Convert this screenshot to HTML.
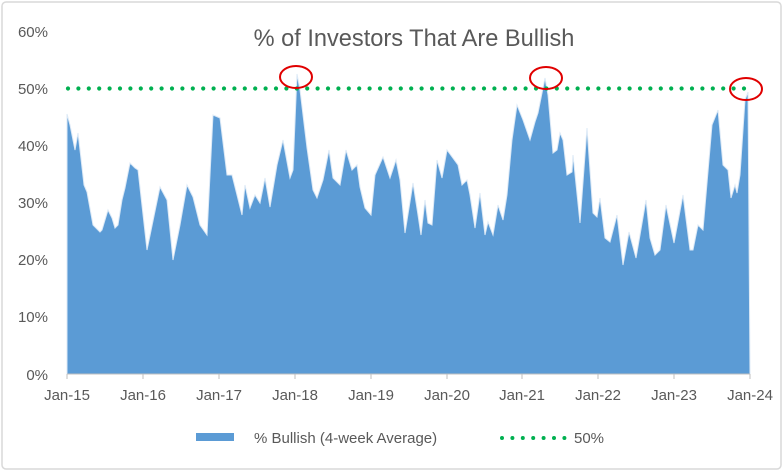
<!DOCTYPE html>
<html><head><meta charset="utf-8"><style>
body{margin:0;background:#fff;}
svg{display:block;font-family:"Liberation Sans",sans-serif;}
</style></head><body>
<svg width="784" height="472" viewBox="0 0 784 472">
<rect x="2" y="2" width="779" height="467" rx="4" fill="#fff" stroke="#d9d9d9" stroke-width="1.5"/>
<text x="414" y="46" text-anchor="middle" font-size="23.6" fill="#595959">% of Investors That Are Bullish</text>
<g font-size="15" fill="#595959" text-anchor="end">
<text x="48" y="37">60%</text><text x="48" y="94">50%</text><text x="48" y="151">40%</text>
<text x="48" y="208">30%</text><text x="48" y="265">20%</text><text x="48" y="322">10%</text><text x="48" y="380">0%</text>
</g>
<path fill="#5b9bd5" stroke="#dce9f6" stroke-width="1" d="M67,374 L67,114 L70,125 L75,150 L78,133 L80,150 L84,185 L87,192 L93,225 L100,232 L102,230 L108,210 L112,218 L115,228 L118,225 L122,200 L125,188 L130,163 L135,168 L138,170 L147,250 L160,187 L167,200 L173,260 L180,225 L187,185 L193,197 L200,225 L207,235 L213,115 L220,118 L227,175 L232,175 L242,215 L245,185 L250,208 L255,195 L260,203 L265,178 L270,207 L277,165 L283,140 L290,178 L293,170 L297,74 L300,90 L307,148 L313,190 L317,198 L323,180 L329,150 L333,178 L340,185 L346,150 L352,170 L357,165 L360,187 L365,208 L371,215 L375,175 L383,157 L390,178 L396,160 L400,180 L405,233 L413,183 L418,215 L421,235 L425,200 L428,223 L432,225 L437,160 L442,178 L447,150 L458,165 L462,185 L467,180 L470,195 L475,228 L480,193 L485,235 L488,222 L493,235 L498,205 L503,220 L507,195 L512,140 L517,105 L523,120 L530,140 L535,122 L538,113 L545,78 L548,95 L553,153 L557,150 L560,133 L563,140 L567,175 L572,172 L573,155 L580,223 L587,128 L593,213 L597,217 L600,198 L605,238 L610,242 L617,215 L623,265 L629,232 L636,258 L640,235 L646,200 L650,238 L655,255 L660,250 L666,205 L674,243 L683,195 L690,250 L693,250 L698,225 L703,230 L712,125 L718,110 L723,165 L728,170 L731,198 L735,185 L737,193 L740,175 L745,100 L748,92 L750,374 Z"/>
<line x1="67" y1="374" x2="750" y2="374" stroke="#bfbfbf" stroke-width="1"/>
<g stroke="#bfbfbf"><line x1="67" y1="374" x2="67" y2="379"/><line x1="143" y1="374" x2="143" y2="379"/><line x1="219" y1="374" x2="219" y2="379"/><line x1="295" y1="374" x2="295" y2="379"/><line x1="371" y1="374" x2="371" y2="379"/><line x1="447" y1="374" x2="447" y2="379"/><line x1="522" y1="374" x2="522" y2="379"/><line x1="598" y1="374" x2="598" y2="379"/><line x1="674" y1="374" x2="674" y2="379"/><line x1="750" y1="374" x2="750" y2="379"/></g>
<line x1="68" y1="88.5" x2="750" y2="88.5" stroke="#00b050" stroke-width="4.2" stroke-linecap="round" stroke-dasharray="0 10.4"/>
<g font-size="15" fill="#595959" text-anchor="middle">
<text x="67" y="400">Jan-15</text><text x="143" y="400">Jan-16</text><text x="219" y="400">Jan-17</text><text x="295" y="400">Jan-18</text><text x="371" y="400">Jan-19</text><text x="447" y="400">Jan-20</text><text x="522" y="400">Jan-21</text><text x="598" y="400">Jan-22</text><text x="674" y="400">Jan-23</text><text x="750" y="400">Jan-24</text>
</g>
<g fill="none" stroke="#e00000" stroke-width="2">
<ellipse cx="296" cy="77" rx="16" ry="11"/>
<ellipse cx="546" cy="78" rx="16" ry="11"/>
<ellipse cx="746" cy="89" rx="16" ry="11"/>
</g>
<rect x="196" y="433" width="38" height="8" fill="#5b9bd5"/>
<text x="254" y="443" font-size="15" fill="#595959">% Bullish (4-week Average)</text>
<line x1="502" y1="438" x2="565" y2="438" stroke="#00b050" stroke-width="4" stroke-linecap="round" stroke-dasharray="0 10.4"/>
<text x="574" y="443" font-size="15" fill="#595959">50%</text>
</svg>
</body></html>
